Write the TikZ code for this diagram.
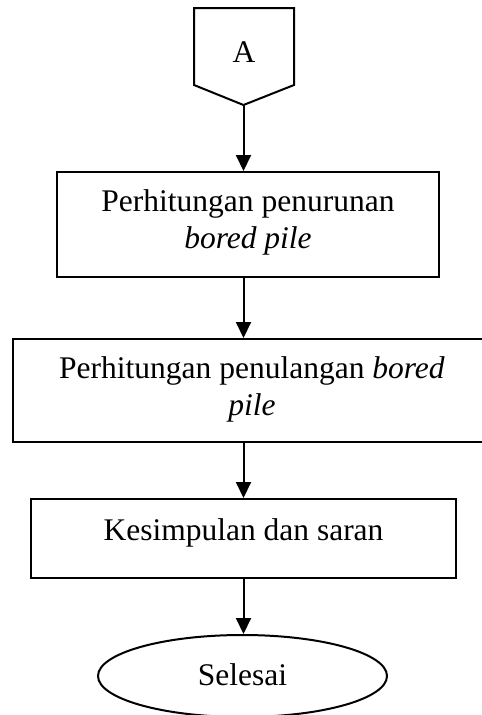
\documentclass[tikz,border=0pt]{standalone}
\usepackage{fontspec}
\setmainfont{Liberation Serif}
\usetikzlibrary{arrows.meta,shapes.geometric}
\begin{document}
\begin{tikzpicture}[x=1pt,y=1pt,
  outline/.style={line width=2pt,line join=miter},
  boxnode/.style={draw,line width=2pt,rectangle,inner sep=0pt},
  endnode/.style={draw,line width=2pt,ellipse,inner sep=0pt},
  txt/.style={anchor=base,inner sep=0pt,font=\fontsize{31.5}{37}\selectfont},
  arr/.style={line width=2pt,-{Triangle[length=16pt,width=15pt]}},
]
\useasboundingbox (0,0) rectangle (482,-715);
\clip (0,0) rectangle (482,-715);
\fill[white] (0,0) rectangle (482,-715);

% off-page connector
\draw[outline] (194,-8) -- (294,-8) -- (294,-85) -- (243.5,-105) -- (194,-85) -- cycle;
\coordinate (pA) at (243.5,-105);
\node[txt] (tA) at (244,-62) {A};

% boxes
\node[boxnode,minimum width=382pt,minimum height=105pt] (b1) at (248,-224.5) {};
\node[txt] (b1l1) at (248,-211) {Perhitungan penurunan};
\node[txt] (b1l2) at (248,-248) {\itshape bored pile};

\node[boxnode,minimum width=478pt,minimum height=103pt] (b2) at (252,-390.5) {};
\node[txt] (b2l1) at (252,-378) {Perhitungan penulangan \textit{bored}};
\node[txt] (b2l2) at (252,-415) {\itshape pile};

\node[boxnode,minimum width=425pt,minimum height=79pt] (b3) at (243.5,-538.5) {};
\node[txt] (b3l1) at (243.5,-540) {Kesimpulan dan saran};

\node[endnode,minimum width=289pt,minimum height=82pt] (e) at (242.5,-676) {};
\node[txt] (el) at (242.5,-685) {Selesai};

% connectors
\draw[arr] (pA) -- (pA |- b1.north);
\draw[arr] (b1.south -| pA) -- (b2.north -| pA);
\draw[arr] (b2.south -| pA) -- (b3.north -| pA);
\draw[arr] (b3.south -| pA) -- (pA |- e.north);
\end{tikzpicture}
\end{document}
